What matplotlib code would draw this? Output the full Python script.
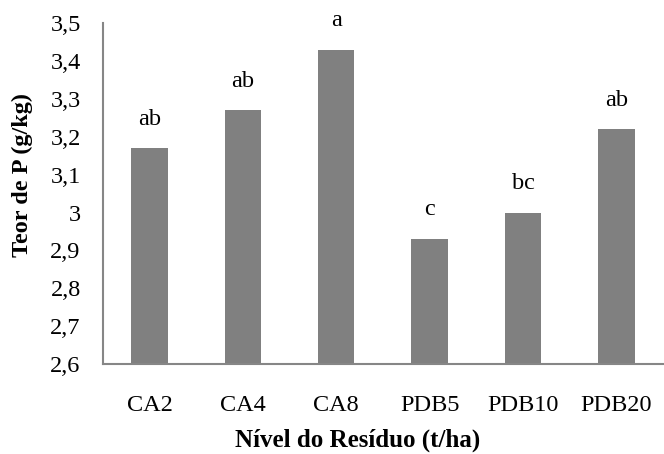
import matplotlib
matplotlib.use("Agg")
import matplotlib.pyplot as plt
from matplotlib.ticker import FixedLocator, FuncFormatter

categories = ["CA2", "CA4", "CA8", "PDB5", "PDB10", "PDB20"]
values = [3.17, 3.27, 3.43, 2.93, 3.00, 3.22]
letters = ["ab", "ab", "a", "c", "bc", "ab"]
yticks = [2.6, 2.7, 2.8, 2.9, 3.0, 3.1, 3.2, 3.3, 3.4, 3.5]

plt.rcParams['font.family'] = ['Liberation Serif', 'DejaVu Serif']

fig = plt.figure(figsize=(6.64, 4.54), dpi=100)
ax = fig.add_axes([0.155, 0.198, 0.8435, 0.751])

x = range(len(categories))
bars = ax.bar(x, values, width=0.39, color="#808080", bottom=0)
ax.set_ylim(2.6, 3.5)
ax.set_xlim(-0.5, len(categories) - 0.5)

for xi, v, t in zip(x, values, letters):
    ax.annotate(t, (xi, v), xytext=(0, 21), textcoords="offset points",
                ha="center", va="center", fontsize=17.5)

ax.yaxis.set_major_locator(FixedLocator(yticks))
ax.yaxis.set_major_formatter(FuncFormatter(lambda v, p: ("%g" % round(v, 1)).replace(".", ",")))
ax.set_xticks(list(x))
ax.set_xticklabels(categories)
ax.tick_params(axis="both", length=0, labelsize=17.5)
ax.tick_params(axis="y", pad=16)
ax.tick_params(axis="x", pad=22)

for s in ["top", "right"]:
    ax.spines[s].set_visible(False)
for s in ["left", "bottom"]:
    ax.spines[s].set_color("#868686")
    ax.spines[s].set_linewidth(1.5)

ax.set_xlabel("Nível do Resíduo (t/ha)", fontsize=18, fontweight="bold")
ax.xaxis.set_label_coords(0.455, -0.19)
ax.set_ylabel("Teor de P (g/kg)", fontsize=17.5, fontweight="bold")
ax.yaxis.set_label_coords(-0.125, 0.555)

fig.savefig("out.png", dpi=100)
